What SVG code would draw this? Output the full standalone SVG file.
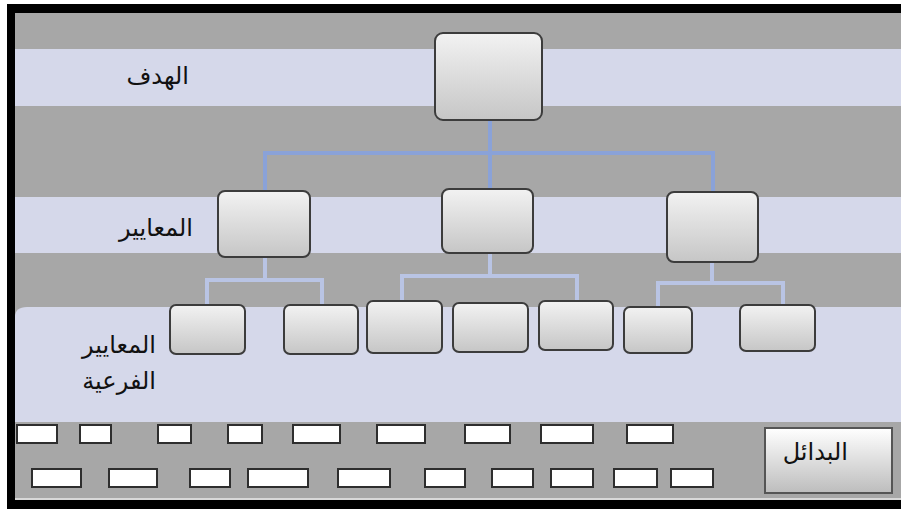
<svg xmlns="http://www.w3.org/2000/svg" width="901" height="509" viewBox="0 0 901 509">
<defs>
<linearGradient id="ng" x1="0" y1="0" x2="0" y2="1">
<stop offset="0" stop-color="#f2f2f2"/>
<stop offset="1" stop-color="#c6c6c6"/>
</linearGradient>
<linearGradient id="bg" x1="0" y1="0" x2="0" y2="1">
<stop offset="0" stop-color="#ffffff"/>
<stop offset="1" stop-color="#bdbdbd"/>
</linearGradient>
</defs>
<style>
.node{fill:url(#ng);stroke:#3c3c3c;stroke-width:2}
.alt{fill:#ffffff;stroke:#2e2e2e;stroke-width:2}
.c1{fill:none;stroke:#8aa2d8;stroke-width:4}
.c2{fill:none;stroke:#b9c4e4;stroke-width:4}
.lbl{font-family:"DejaVu Sans","Noto Sans",sans-serif;font-size:24px;fill:#111;text-anchor:end}
</style>
<rect x="0" y="0" width="901" height="509" fill="#ffffff"/>
<rect x="7" y="4" width="894" height="505" fill="#000"/>
<rect x="15" y="13" width="886" height="487" fill="#a7a7a7"/>
<rect x="15" y="49" width="886" height="57" fill="#d5d8ea"/>
<rect x="15" y="197" width="886" height="56" fill="#d5d8ea"/>
<path d="M15 317 Q15 307 27 307 L901 307 L901 422 L15 422 Z" fill="#d5d8ea"/>
<rect x="15" y="498" width="886" height="2" fill="#d8d8d8"/>

<g id="connectors">
<path class="c1" d="M490 120 V189 M265 191 V153 H713 V192"/>
<path class="c2" d="M265 257 V280 M207 305 V280 H322 V305"/>
<path class="c2" d="M490 253 V276 M402 301 V276 H577 V301"/>
<path class="c2" d="M712 262 V283 M658 307 V283 H783 V305"/>
</g>

<g id="goal"><rect class="node" x="435" y="33" width="107" height="87" rx="8"/></g>
<g id="crit1"><rect class="node" x="218" y="191" width="92" height="66" rx="7"/></g>
<g id="crit2"><rect class="node" x="442" y="189" width="91" height="64" rx="7"/></g>
<g id="crit3"><rect class="node" x="667" y="192" width="91" height="70" rx="7"/></g>

<g id="sub1"><rect class="node" x="170" y="305" width="75" height="49" rx="6"/></g>
<g id="sub2"><rect class="node" x="284" y="305" width="74" height="49" rx="6"/></g>
<g id="sub3"><rect class="node" x="367" y="301" width="75" height="52" rx="6"/></g>
<g id="sub4"><rect class="node" x="453" y="303" width="75" height="49" rx="6"/></g>
<g id="sub5"><rect class="node" x="539" y="301" width="74" height="49" rx="6"/></g>
<g id="sub6"><rect class="node" x="624" y="307" width="68" height="46" rx="6"/></g>
<g id="sub7"><rect class="node" x="740" y="305" width="75" height="46" rx="6"/></g>

<g id="labels">
<text class="lbl" x="189" y="84">الهدف</text>
<text class="lbl" x="193" y="236">المعايير</text>
<text class="lbl" x="156" y="353">المعايير</text>
<text class="lbl" x="156" y="389">الفرعية</text>
</g>

<g id="alternatives">
<rect class="alt" x="17" y="425" width="40" height="18"/>
<rect class="alt" x="80" y="425" width="31" height="18"/>
<rect class="alt" x="158" y="425" width="33" height="18"/>
<rect class="alt" x="228" y="425" width="34" height="18"/>
<rect class="alt" x="293" y="425" width="47" height="18"/>
<rect class="alt" x="377" y="425" width="48" height="18"/>
<rect class="alt" x="465" y="425" width="45" height="18"/>
<rect class="alt" x="541" y="425" width="52" height="18"/>
<rect class="alt" x="627" y="425" width="46" height="18"/>
<rect class="alt" x="32" y="469" width="49" height="18"/>
<rect class="alt" x="109" y="469" width="48" height="18"/>
<rect class="alt" x="190" y="469" width="40" height="18"/>
<rect class="alt" x="248" y="469" width="60" height="18"/>
<rect class="alt" x="338" y="469" width="52" height="18"/>
<rect class="alt" x="425" y="469" width="40" height="18"/>
<rect class="alt" x="492" y="469" width="41" height="18"/>
<rect class="alt" x="551" y="469" width="42" height="18"/>
<rect class="alt" x="614" y="469" width="43" height="18"/>
<rect class="alt" x="671" y="469" width="42" height="18"/>
</g>

<g id="alternatives-box">
<rect x="765" y="428" width="127" height="65" fill="url(#bg)" stroke="#555" stroke-width="2"/>
<text class="lbl" x="848" y="460">البدائل</text>
</g>
</svg>
